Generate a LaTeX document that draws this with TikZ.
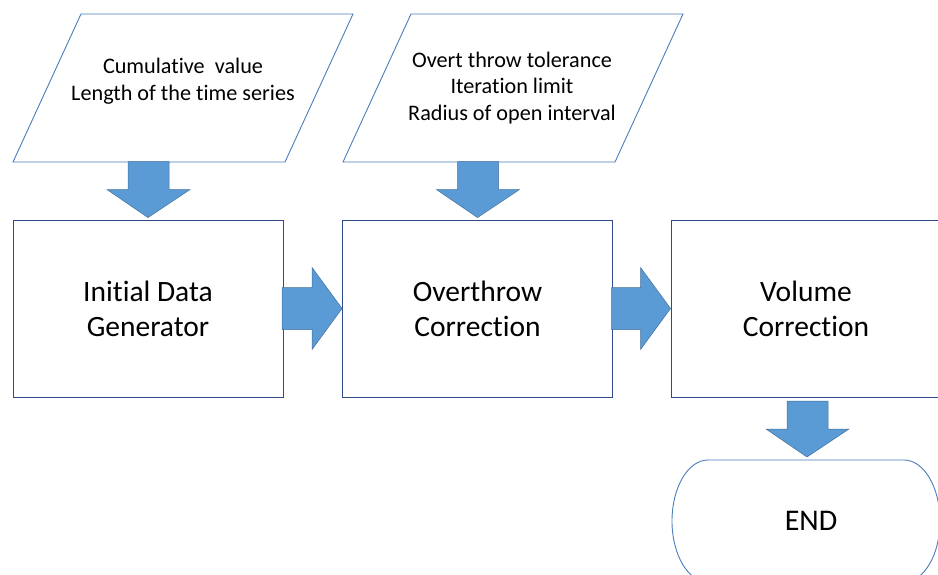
\documentclass[tikz,border=0pt]{standalone}
\usepackage{fontspec}
\setmainfont[Ligatures={NoCommon}]{Carlito}
\usetikzlibrary{calc}
\definecolor{paraline}{HTML}{4A7EBB}
\definecolor{boxline}{HTML}{2F4A87}
\definecolor{arrfill}{HTML}{5B9BD5}
\definecolor{arrline}{HTML}{41719C}
\tikzset{
  paraline/.style={draw=paraline, line width=0.9pt},
  boxshape/.style={draw=boxline, line width=0.9pt, minimum width=270pt, minimum height=177pt, inner sep=0pt, align=center,
    font=\fontsize{29.5pt}{35pt}\selectfont},
  smalltext/.style={align=center, inner sep=0pt, font=\fontsize{22.2pt}{26.8pt}\selectfont},
  blockarrow/.style={fill=arrfill, draw=arrline, line width=0.5pt, line join=miter},
}
\begin{document}
\begin{tikzpicture}[x=1pt,y=1pt]
\useasboundingbox (0,0) rectangle (938,-575);
\clip (0,0) rectangle (938,-575);
% input parallelograms
\draw[paraline] (81,-14) -- (353,-14) -- (285,-162) -- (13,-162) -- cycle;
\node[smalltext] (p1) at (183,-81) {Cumulative\ \ value\\Length of the time series};
\draw[paraline] (411,-14) -- (683,-14) -- (615,-162) -- (343,-162) -- cycle;
\node[smalltext] (p2) at (512,-88) {Overt throw tolerance\\Iteration limit\\Radius of open interval};
% process boxes
\node[boxshape] (b1) at (148,-308.5) {Initial Data\\Generator};
\node[boxshape] (b2) at (477.5,-308.5) {Overthrow\\Correction};
\node[boxshape] (b3) at (806,-308.5) {Volume\\Correction};
% terminal
\draw[paraline] (708,-460) -- (904,-460)
  arc[start angle=90, end angle=-90, x radius=36, y radius=61] -- (708,-582)
  arc[start angle=270, end angle=90, x radius=36, y radius=61] -- cycle;
\node[font=\fontsize{30pt}{34pt}\selectfont, inner sep=0pt] (endn) at (811,-521) {END};
\coordinate (endtop) at (807,-457);
% block arrows (down)
\draw[blockarrow] ($(b1.north)+(0,2)$) -- ++(42,28) -- ++(-21,0) -- ++(0,28) -- ++(-41,0) -- ++(0,-28) -- ++(-21,0) -- cycle;
\draw[blockarrow] ($(b2.north)+(0,2)$) -- ++(42,28) -- ++(-21,0) -- ++(0,28) -- ++(-41,0) -- ++(0,-28) -- ++(-21,0) -- cycle;
\draw[blockarrow] (endtop) -- ++(42,28) -- ++(-21,0) -- ++(0,28) -- ++(-41,0) -- ++(0,-28) -- ++(-21,0) -- cycle;
% block arrows (right)
\draw[blockarrow] (b2.west) -- ++(-30,41) -- ++(0,-20) -- ++(-30,0) -- ++(0,-42) -- ++(30,0) -- ++(0,-20) -- cycle;
\draw[blockarrow] (b3.west) -- ++(-30,41) -- ++(0,-20) -- ++(-29,0) -- ++(0,-42) -- ++(29,0) -- ++(0,-20) -- cycle;
\end{tikzpicture}
\end{document}
